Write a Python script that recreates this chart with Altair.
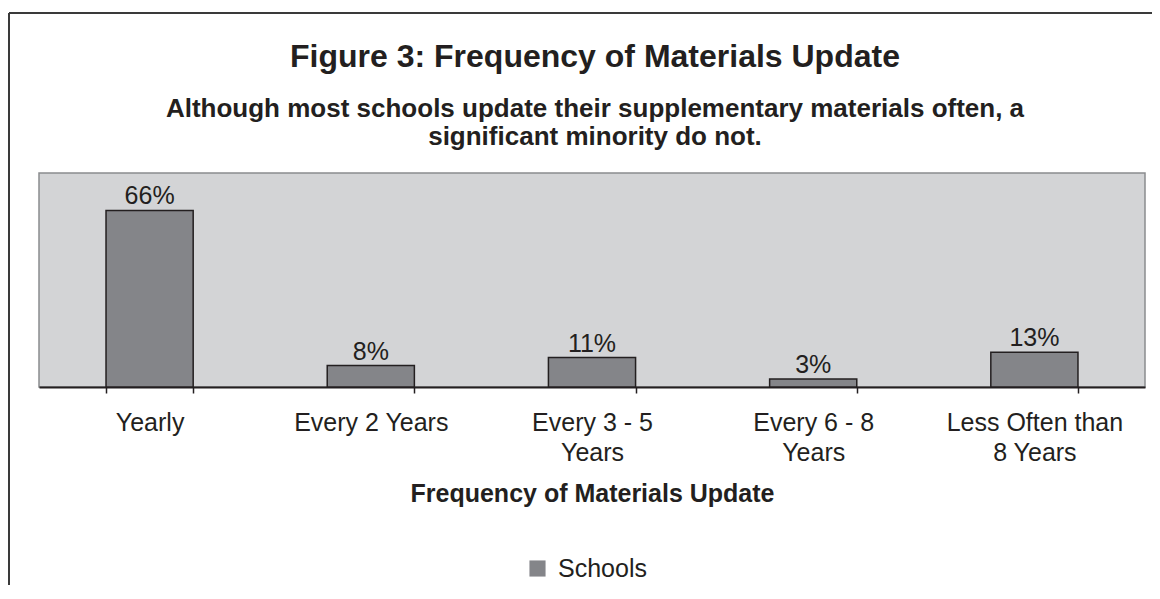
import altair as alt
import pandas as pd

categories = ["Yearly", "Every 2 Years", "Every 3 - 5 Years", "Every 6 - 8 Years", "Less Often than 8 Years"]
label_lines = ["Yearly", "Every 2 Years", "Every 3 - 5|Years", "Every 6 - 8|Years", "Less Often than|8 Years"]
values = [66, 8, 11, 3, 13]
series = "Schools"

df = pd.DataFrame({
    "cat": categories,
    "value": values,
    "series": [series] * len(categories),
    "text": [f"{v}%" for v in values],
})

FONT = "Liberation Sans"
TXT = "#231f20"
W, H = 1106, 214

label_expr = " : ".join(
    [f"datum.label == '{c}' ? split('{l}', '|')" for c, l in zip(categories, label_lines)]
) + " : datum.label"

x_enc = alt.X(
    "cat:N",
    sort=categories,
    scale=alt.Scale(paddingInner=0.606, paddingOuter=0.303),
    axis=alt.Axis(
        title="Frequency of Materials Update",
        labelExpr=label_expr,
        labelAngle=0,
        labelFontSize=25,
        labelColor=TXT,
        labelFont=FONT,
        labelPadding=17,
        labelLineHeight=30,
        labelBaseline="top",
        tickBand="extent",
        tickSize=6,
        tickColor="#231f20",
        tickWidth=1.5,
        domainColor="#231f20",
        domainWidth=2,
        titleFontSize=25,
        titleFont=FONT,
        titleFontWeight="bold",
        titleColor=TXT,
        titlePadding=16,
    ),
)
y_enc = alt.Y("value:Q", scale=alt.Scale(domain=[0, 80]), axis=None)

bars = alt.Chart(df).mark_bar(stroke="#231f20", strokeWidth=1.5).encode(
    x=x_enc,
    y=y_enc,
    color=alt.Color(
        "series:N",
        scale=alt.Scale(range=["#848589"]),
        legend=alt.Legend(
            title=None,
            orient="none",
            legendX=486,
            legendY=383,
            symbolType="square",
            symbolSize=260,
            symbolStrokeWidth=0,
            labelFontSize=25,
            labelFont=FONT,
            labelColor=TXT,
            labelOffset=8,
        ),
    ),
)

texts = alt.Chart(df).mark_text(
    fontSize=25, font=FONT, color=TXT, baseline="alphabetic", dy=-6
).encode(
    x=alt.X("cat:N", sort=categories),
    y=y_enc,
    text="text:N",
)

frame_data = alt.Data(values=[{"f": 1}])
top_line = alt.Chart(frame_data).mark_rule(color="#3a3a3a", strokeWidth=2).encode(
    x=alt.value(-30), x2=alt.value(1125), y=alt.value(-160)
)
left_line = alt.Chart(frame_data).mark_rule(color="#3a3a3a", strokeWidth=2).encode(
    x=alt.value(-30), y=alt.value(-160), y2=alt.value(H + 210)
)

chart = alt.layer(bars, texts, top_line, left_line).properties(
    width=W,
    height=H,
    autosize=alt.AutoSizeParams(type="none"),
    padding={"left": 31, "top": 165, "right": 7, "bottom": 198},
    title=alt.TitleParams(
        text="Figure 3: Frequency of Materials Update",
        subtitle=["Although most schools update their supplementary materials often, a",
                  "significant minority do not."],
        anchor="middle",
        frame="group",
        fontSize=32,
        font=FONT,
        fontWeight="bold",
        color=TXT,
        subtitleFontSize=26,
        subtitleFont=FONT,
        subtitleFontWeight="bold",
        subtitleColor=TXT,
        subtitlePadding=22,
        subtitleLineHeight=28,
        offset=-139,
        dx=3,
    ),
).configure(
    background="white", font=FONT
).configure_view(
    fill="#d3d4d6", stroke="#8a8c8e", strokeWidth=1.5
)

chart.save("out.html", embed_options={"renderer": "svg", "actions": False})
